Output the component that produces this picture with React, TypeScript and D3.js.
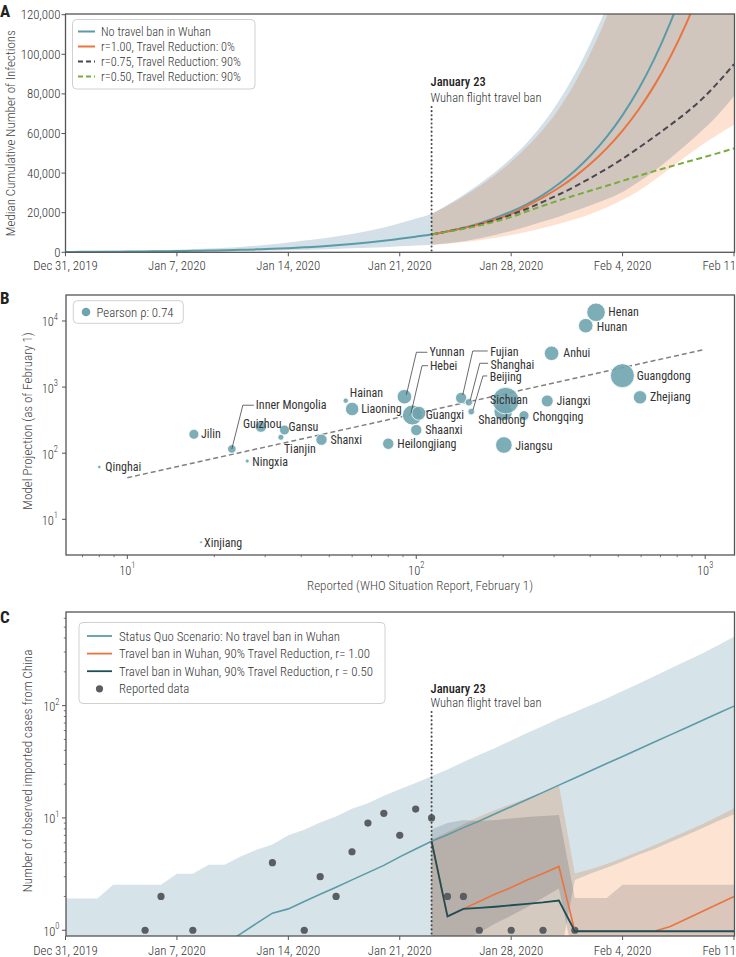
import React from "react";
import * as d3 from "d3";

const FONT = "'Roboto Condensed','Liberation Sans Narrow','Arial Narrow','DejaVu Sans Condensed',sans-serif";

// ---------------- shared time axis ----------------
const DATE_TICK_LABELS = ["Dec 31, 2019", "Jan 7, 2020", "Jan 14, 2020", "Jan 21, 2020", "Jan 28, 2020", "Feb 4, 2020", "Feb 11, 2020"];
const BAN_DATE = "Jan 23, 2020";
const BAN_TITLE = "January 23";
const BAN_TEXT = "Wuhan flight travel ban";

// ---------------- Panel A (thousands of infections) ----------------
const A_Y_TICKS = [0, 20000, 40000, 60000, 80000, 100000, 120000];
const A_LEGEND = ["No travel ban in Wuhan", "r=1.00, Travel Reduction: 0%", "r=0.75, Travel Reduction: 90%", "r=0.50, Travel Reduction: 90%"];
const A_START_NOBAN = 0; // first day index (days after Dec 31)
const A_START_BAN = 23;
const A_NO_BAN = [0.19, 0.22, 0.26, 0.31, 0.37, 0.44, 0.52, 0.62, 0.74, 0.88, 1.05, 1.25, 1.48, 1.76, 2.1, 2.5, 2.95, 3.5, 4.15, 4.9, 5.8, 6.85, 7.9, 9.0, 10.6, 12.4, 14.6, 17.4, 20.5, 24.3, 29.0, 34.6, 41.2, 49.0, 58.3, 69.3, 82.3, 97.8, 116, 137];
const A_R100 = [9.0, 10.5, 12.2, 14.2, 16.6, 19.4, 23.5, 27.8, 32.6, 38.2, 44.8, 52.5, 61.5, 72.0, 84.3, 98.7, 115.5, 135];
const A_R075 = [9.0, 10.5, 12.1, 14.0, 16.3, 19.0, 22.0, 25.5, 29.2, 33.2, 37.6, 42.2, 47.2, 52.7, 58.4, 64.3, 70.5, 77.5, 85.8, 95.0];
const A_R050 = [9.0, 10.4, 11.9, 13.5, 15.5, 17.8, 20.7, 23.5, 26.2, 28.7, 31.2, 33.6, 36.1, 38.6, 41.0, 43.3, 45.6, 47.8, 50.1, 52.5];
const A_NOBAN_HI = [0.5, 0.6, 0.7, 0.8, 0.9, 1.05, 1.2, 1.35, 1.6, 1.9, 2.3, 2.7, 3.3, 4.1, 5.0, 5.9, 6.9, 8.0, 9.3, 10.8, 12.5, 14.7, 17.0, 19.5, 24.0, 29.0, 34.5, 40.5, 47.5, 55.5, 65, 76.5, 90, 106, 124, 145, 168, 195, 225, 260, 300, 345, 395];
const A_NOBAN_LO = [0.05, 0.06, 0.08, 0.1, 0.12, 0.15, 0.2, 0.25, 0.3, 0.38, 0.45, 0.55, 0.7, 0.85, 1.0, 1.2, 1.45, 1.7, 2.0, 2.3, 2.6, 3.0, 3.4, 3.8, 4.6, 5.6, 7.0, 8.8, 10.8, 13.0, 15.5, 18.0, 20.8, 23.8, 26.8, 30.5, 35.5, 41.0, 47.5, 54.3, 61.5, 69.5, 79];
const A_R100_HI = [19.5, 23.5, 28.2, 33.4, 39.2, 45.8, 53.3, 62.0, 72.5, 85.5, 101, 119, 140, 165, 190, 220, 250, 285, 325, 370];
const A_R100_LO = [3.6, 4.3, 5.1, 6.1, 7.3, 8.7, 10.4, 12.3, 14.4, 16.7, 19.4, 22.6, 26.5, 31.0, 36.5, 42.5, 48.5, 54.3, 59.5, 64.4];

// ---------------- Panel B ----------------
const B_PROVINCES = ["Qinghai", "Jilin", "Inner Mongolia", "Guizhou", "Gansu", "Tianjin", "Ningxia", "Shanxi", "Xinjiang", "Hainan", "Liaoning", "Yunnan", "Hebei", "Guangxi", "Shaanxi", "Heilongjiang", "Fujian", "Shanghai", "Beijing", "Shandong", "Sichuan", "Chongqing", "Jiangsu", "Jiangxi", "Anhui", "Hunan", "Henan", "Guangdong", "Zhejiang"];
const B_REPORTED = [8, 17, 23, 29, 35, 34, 26, 47, 18, 57, 60, 91, 97, 102, 100, 80, 143, 152, 155, 200, 204, 236, 201, 284, 294, 386, 419, 517, 595];
const B_PROJECTED = [62, 193, 116, 252, 224, 174, 76, 160, 4.5, 623, 466, 716, 378, 402, 224, 139, 684, 589, 425, 425, 623, 370, 133, 617, 3245, 8490, 13530, 1489, 700];
const B_WEIGHT = [3, 25, 18, 32, 25, 9, 4, 32, 2, 7, 45, 53, 100, 49, 32, 32, 32, 14, 11, 86, 177, 25, 69, 36, 53, 53, 86, 144, 45];
const B_TREND_X = [10, 1000];
const B_TREND_Y = [42.6, 3730];
const B_X_TICKS = [10, 100, 1000];
const B_Y_TICKS = [10, 100, 1000, 10000];
const B_LEGEND = "Pearson \u03c1: 0.74";

// label placement (pixel offsets from bubble centre)
const B_LABELS: Record<string, { dx: number; dy: number; leader?: [number, number][] }> = {
  Qinghai: { dx: 6, dy: 0 },
  Jilin: { dx: 7, dy: 0 },
  "Inner Mongolia": { dx: 24, dy: -43.5, leader: [[0, 0], [11, -43.7], [22, -43.7]] },
  Guizhou: { dx: -18, dy: -3 },
  Gansu: { dx: 4, dy: -3 },
  Tianjin: { dx: 3, dy: 12 },
  Ningxia: { dx: 5, dy: 1 },
  Shanxi: { dx: 9, dy: 0 },
  Xinjiang: { dx: 3, dy: 1 },
  Hainan: { dx: 4, dy: -8 },
  Liaoning: { dx: 9, dy: 0 },
  Yunnan: { dx: 25, dy: -44.2, leader: [[2, -2], [12, -44.4], [23, -44.4]] },
  Hebei: { dx: 17.5, dy: -49, leader: [[-1.5, -1.5], [9.6, -49.3], [15.6, -49.3]] },
  Guangxi: { dx: 7, dy: 2 },
  Shaanxi: { dx: 9, dy: 0 },
  Heilongjiang: { dx: 9, dy: 0.5 },
  Fujian: { dx: 29, dy: -46.3, leader: [[1.6, -3], [11.6, -47], [26.6, -47]] },
  Shanghai: { dx: 21.7, dy: -37.6, leader: [[1.3, -1.6], [11, -39], [19.3, -39]] },
  Beijing: { dx: 18.4, dy: -34.7, leader: [[1.7, -1.7], [11.7, -35.7], [16, -35.7]] },
  Sichuan: { dx: -15.6, dy: -0.7 },
  Shandong: { dx: -25, dy: 8.3 },
  Chongqing: { dx: 8.6, dy: 1 },
  Jiangsu: { dx: 11.4, dy: 0.7 },
  Jiangxi: { dx: 9.3, dy: 0 },
  Anhui: { dx: 11.7, dy: -0.6 },
  Hunan: { dx: 11, dy: 1 },
  Henan: { dx: 12.3, dy: -0.6 },
  Guangdong: { dx: 14.3, dy: 0 },
  Zhejiang: { dx: 10, dy: 0 },
};

// ---------------- Panel C ----------------
const C_LEGEND = ["Status Quo Scenario: No travel ban in Wuhan", "Travel ban in Wuhan, 90% Travel Reduction, r= 1.00", "Travel ban in Wuhan, 90% Travel Reduction, r = 0.50", "Reported data"];
const C_Y_TICKS = [1, 10, 100];
const C_REPORTED_DAYS = [5, 6, 8, 13, 15, 16, 17, 18, 19, 20, 21, 22, 23, 24, 25, 26, 28, 30, 32];
const C_REPORTED = [1, 2, 1, 4, 1, 3, 2, 5, 9, 11, 7, 12, 10, 2, 2, 1, 1, 1, 1];
const C_START_NOBAN_LINE = 10;
const C_NO_BAN = [0.75, 0.93, 1.15, 1.42, 1.55, 1.8, 2.09, 2.42, 2.81, 3.26, 3.78, 4.5, 5.3, 6.2, 7.1, 8.2, 9.4, 10.9, 12.6, 14.6, 16.9, 19.6, 22.7, 26.3, 30.5, 35.3, 40.9, 47.4, 54.9, 63.6, 73.7, 85.4, 99];
const C_START_BAND = 0;
const C_NOBAN_HI = [1.92, 1.92, 1.92, 2.54, 2.54, 2.54, 2.54, 3.19, 3.19, 3.83, 3.83, 4.54, 5.2, 5.8, 7.0, 7.85, 9.1, 10.3, 12.1, 13.5, 15.8, 18.0, 20.5, 23.5, 27, 31.5, 36.5, 42, 49, 57, 66, 77, 88, 101, 116, 135, 157, 183, 214, 250, 292, 345, 410];
const C_NOBAN_LO = [0.5, 0.5, 0.5, 0.5, 0.5, 0.5, 0.5, 0.5, 0.5, 0.5, 0.5, 0.5, 0.5, 0.5, 0.5, 0.5, 0.5, 0.5, 0.5, 0.5, 0.5, 0.5, 0.5, 0.5, 0.5, 0.5, 0.5, 0.5, 0.5, 0.5, 0.5, 0.5, 2.8, 3.2, 3.6, 4.1, 4.7, 5.3, 6.1, 7.0, 8.1, 9.4, 10.8];
const C_START_BAN = 23;
const C_R100 = [6.2, 1.33, 1.55, 1.8, 2.1, 2.4, 2.8, 3.2, 3.7, 0.98, 0.98, 0.98, 0.98, 0.98, 0.98, 1.08, 1.26, 1.47, 1.71, 2.0];
const C_R050 = [6.2, 1.33, 1.55, 1.58, 1.62, 1.67, 1.72, 1.77, 1.84, 0.98, 0.98, 0.98, 0.98, 0.98, 0.98, 0.98, 0.98, 0.98, 0.98, 0.98];
const C_R100_HI = [6.4, 7.5, 8.8, 10.3, 11.8, 13.3, 15.0, 17.0, 19.5, 3.2, 3.5, 3.9, 4.4, 5.0, 5.7, 6.6, 7.6, 8.8, 10.3, 12.2];
const C_R100_LO = [0.5, 0.5, 0.5, 0.5, 0.5, 0.5, 0.5, 0.5, 0.5, 0.5, 0.5, 0.5, 0.5, 0.5, 0.5, 0.5, 0.5, 0.5, 0.5, 0.5];
const C_R050_HI = [7.9, 9.0, 9.6, 9.4, 9.6, 9.9, 10.2, 10.4, 10.6, 1.94, 1.94, 1.94, 2.54, 2.54, 2.54, 2.54, 2.54, 2.54, 2.54, 2.54];
const C_R050_LO = [0.5, 0.6, 0.8, 0.95, 1.15, 1.35, 1.6, 1.95, 2.35, 0.5, 0.5, 0.5, 0.5, 0.5, 0.5, 0.5, 0.5, 0.5, 0.5, 0.5];

// ---------------- styles ----------------
const TEAL = "#5b9ba8";
const ORANGE = "#ea7440";
const DARKGRAY = "#4b4650";
const GREEN = "#79ac3c";
const DARKTEAL = "#1e4f56";
const FRAME = "#555";
const TICKTXT = "#333";

function Sup({ x, y, base, exp, anchor }: { x: number; y: number; base: string; exp: string; anchor: string }) {
  return (
    <text x={x} y={y} textAnchor={anchor} fontSize={12.5} fontWeight={300} fill={TICKTXT} dominantBaseline="central">
      {base}
      <tspan fontSize={8.5} dy={-5}>{exp}</tspan>
    </text>
  );
}

export default function App() {
  const parse = d3.timeParse("%b %d, %Y");
  const tickDates = DATE_TICK_LABELS.map((s) => parse(s) as Date);
  const x = d3.scaleTime().domain([tickDates[0], tickDates[tickDates.length - 1]]).range([65.5, 734]);
  const dayDate = (d: number) => d3.timeDay.offset(tickDates[0], d);
  const banX = x(parse(BAN_DATE) as Date);
  const fmtDate = d3.timeFormat("%b %-d, %Y");
  const fmtShort = d3.timeFormat("%b %-d");

  // ---------- A ----------
  const A = { l: 65.5, r: 734.5, t: 14, b: 252.3 };
  const yA = d3.scaleLinear().domain([0, 120000]).range([252.3, 14.7]);
  const lineA = (start: number) =>
    d3.line<number>().x((_, i) => x(dayDate(start + i))).y((v) => yA(v * 1000)).curve(d3.curveMonotoneX);
  const areaA = (start: number, lo: number[]) =>
    d3.area<number>().x((_, i) => x(dayDate(start + i))).y0((_, i) => yA(lo[i] * 1000)).y1((v) => yA(v * 1000)).curve(d3.curveMonotoneX);
  const fmtNum = d3.format(",");

  // ---------- B ----------
  const B = { l: 66, r: 734.5, t: 295, b: 555 };
  const xB = d3.scaleLog().domain([6.135, 1258]).range([66, 734]);
  const yB = d3.scaleLog().domain([Math.pow(10, 0.46), Math.pow(10, 4.393)]).range([555, 295]);
  const rB = d3.scaleSqrt().domain([0, d3.max(B_WEIGHT) as number]).range([0, 13.3]);
  const bMinor: number[] = [];
  [1, 10, 100, 1000].forEach((dec) => {
    for (let m = 2; m <= 9; m++) {
      const v = m * dec;
      if (v > 6.135 && v < 1258) bMinor.push(v);
    }
  });

  // ---------- C ----------
  const C = { l: 66, r: 734.5, t: 612, b: 936 };
  const yC = d3.scaleLog().domain([0.889, 682]).range([936, 612]);
  const lineC = (start: number) => d3.line<number>().x((_, i) => x(dayDate(start + i))).y((v) => yC(v));
  const areaC = (start: number, lo: number[]) =>
    d3.area<number>().x((_, i) => x(dayDate(start + i))).y0((_, i) => yC(lo[i])).y1((v) => yC(v));
  const cMinor: number[] = [];
  [1, 10, 100].forEach((dec) => {
    for (let m = 2; m <= 9; m++) {
      const v = m * dec;
      if (v < 682) cMinor.push(v);
    }
  });

  const dateAxis = (bottom: number, labelY: number, key: string) =>
    tickDates.map((d, i) => {
      const last = i === tickDates.length - 1;
      return (
        <g key={key + i}>
          <line x1={x(d)} x2={x(d)} y1={bottom} y2={bottom + 4} stroke={FRAME} strokeWidth={1} />
          <text x={last ? 736 : x(d)} y={labelY} textAnchor={last ? "end" : "middle"} dominantBaseline="central" fontSize={12.8} fontWeight={300} fill={TICKTXT}>
            {last ? fmtShort(d) : fmtDate(d)}
          </text>
        </g>
      );
    });

  const aLegendStyles = [
    { c: TEAL, dash: false },
    { c: ORANGE, dash: false },
    { c: DARKGRAY, dash: true },
    { c: GREEN, dash: true },
  ];
  const cLegendColors = [TEAL, ORANGE, DARKTEAL];

  return (
    <svg width={736} height={957} style={{ position: "absolute", left: 0, top: 0, background: "#fff" }} fontFamily={FONT}>
      <defs>
        <clipPath id="clipA"><rect x={A.l} y={A.t} width={A.r - A.l} height={A.b - A.t} /></clipPath>
        <clipPath id="clipB"><rect x={B.l} y={B.t} width={B.r - B.l} height={B.b - B.t} /></clipPath>
        <clipPath id="clipC"><rect x={C.l} y={C.t} width={C.r - C.l} height={C.b - C.t} /></clipPath>
      </defs>
      <rect x={0} y={0} width={736} height={957} fill="#fff" />

      {/* ================= Panel A ================= */}
      <g clipPath="url(#clipA)">
        <path d={areaA(A_START_NOBAN, A_NOBAN_LO)(A_NOBAN_HI) || ""} fill="#d3e0e8" />
        <path d={areaA(A_START_BAN, A_R100_LO)(A_R100_HI) || ""} fill="#fde2d1" style={{ mixBlendMode: "multiply" }} />
        <path d={lineA(A_START_NOBAN)(A_NO_BAN) || ""} fill="none" stroke={TEAL} strokeWidth={2} />
        <path d={lineA(A_START_BAN)(A_R100) || ""} fill="none" stroke={ORANGE} strokeWidth={2} />
        <path d={lineA(A_START_BAN)(A_R075) || ""} fill="none" stroke={DARKGRAY} strokeWidth={2} strokeDasharray="6 3.5" />
        <path d={lineA(A_START_BAN)(A_R050) || ""} fill="none" stroke={GREEN} strokeWidth={2} strokeDasharray="6 3.5" />
      </g>
      <line x1={banX} x2={banX} y1={107} y2={A.b} stroke="#444" strokeWidth={2} strokeDasharray="0.1 4" strokeLinecap="round" />
      <text x={banX - 1} y={86} fontSize={12.5} fontWeight={500} fill="#222">{BAN_TITLE}</text>
      <text x={banX - 1} y={101.5} fontSize={12.5} fontWeight={300} fill="#333">{BAN_TEXT}</text>
      <rect x={A.l} y={A.t} width={A.r - A.l} height={A.b - A.t} fill="none" stroke={FRAME} strokeWidth={1.3} />
      {A_Y_TICKS.map((v) => (
        <g key={"ay" + v}>
          <line x1={A.l - 4} x2={A.l} y1={yA(v)} y2={yA(v)} stroke={FRAME} />
          <text x={A.l - 5} y={yA(v)} textAnchor="end" dominantBaseline="central" fontSize={12.8} fontWeight={300} fill={TICKTXT}>
            {fmtNum(v)}
          </text>
        </g>
      ))}
      {dateAxis(A.b, 265.5, "ax")}
      <text transform={`translate(10,${(A.t + A.b) / 2}) rotate(-90)`} textAnchor="middle" dominantBaseline="central" fontSize={13} fontWeight={300} fill="#444">
        Median Cumulative Number of Infections
      </text>
      <g>
        <rect x={72.5} y={19.5} width={182.5} height={69.5} rx={4} fill="#fff" fillOpacity={0.85} stroke="#d0d0d0" />
        {A_LEGEND.map((t, i) => (
          <g key={"al" + i}>
            <line x1={78} x2={95} y1={31.5 + i * 15} y2={31.5 + i * 15} stroke={aLegendStyles[i].c} strokeWidth={2} strokeDasharray={aLegendStyles[i].dash ? "5 3" : undefined} />
            <text x={101} y={31.5 + i * 15} dominantBaseline="central" fontSize={12.3} fontWeight={300} fill="#333">{t}</text>
          </g>
        ))}
      </g>
      <text x={0} y={17} fontSize={17} fontWeight={700} fill="#222">A</text>

      {/* ================= Panel B ================= */}
      <g clipPath="url(#clipB)">
        <path
          d={d3.line<number>().x((v) => xB(v)).y((_, i) => yB(B_TREND_Y[i]))(B_TREND_X) || ""}
          fill="none" stroke="#808080" strokeWidth={1.5} strokeDasharray="5 3"
        />
        {B_PROVINCES.map((p, i) => (
          <circle key={"bc" + p} cx={xB(B_REPORTED[i])} cy={yB(B_PROJECTED[i])} r={rB(B_WEIGHT[i])} fill="#6fa4af" fillOpacity={0.9} stroke="#fff" strokeWidth={0.8} />
        ))}
        {B_PROVINCES.map((p, i) => {
          const cx = xB(B_REPORTED[i]);
          const cy = yB(B_PROJECTED[i]);
          const L = B_LABELS[p];
          return (
            <g key={"bl" + p}>
              {L.leader && (
                <polyline points={L.leader.map(([dx, dy]) => `${cx + dx},${cy + dy}`).join(" ")} fill="none" stroke="#444" strokeWidth={0.8} />
              )}
              <text x={cx + L.dx} y={cy + L.dy} dominantBaseline="central" fontSize={12} fill="#333">{p}</text>
            </g>
          );
        })}
      </g>
      <rect x={B.l} y={B.t} width={B.r - B.l} height={B.b - B.t} fill="none" stroke={FRAME} strokeWidth={1.3} />
      {B_X_TICKS.map((v) => (
        <g key={"bx" + v}>
          <line x1={xB(v)} x2={xB(v)} y1={B.b} y2={B.b + 4} stroke={FRAME} />
          <Sup x={xB(v)} y={570} base="10" exp={String(Math.round(Math.log10(v)))} anchor="middle" />
        </g>
      ))}
      {bMinor.map((v) => (
        <line key={"bm" + v} x1={xB(v)} x2={xB(v)} y1={B.b} y2={B.b + 2.2} stroke={FRAME} strokeWidth={0.8} />
      ))}
      {B_Y_TICKS.map((v) => (
        <g key={"by" + v}>
          <line x1={B.l - 4} x2={B.l} y1={yB(v)} y2={yB(v)} stroke={FRAME} />
          <Sup x={58} y={yB(v) + 1} base="10" exp={String(Math.round(Math.log10(v)))} anchor="end" />
        </g>
      ))}
      <text x={420} y={585.5} textAnchor="middle" dominantBaseline="central" fontSize={13} fontWeight={300} fill="#444">
        Reported (WHO Situation Report, February 1)
      </text>
      <text transform={`translate(27,421) rotate(-90)`} textAnchor="middle" dominantBaseline="central" fontSize={13} fontWeight={300} fill="#444">
        Model Projection (as of February 1)
      </text>
      <rect x={73.3} y={300.7} width={110} height={22.6} rx={4} fill="#fff" fillOpacity={0.85} stroke="#d0d0d0" />
      <circle cx={86} cy={312} r={4.3} fill="#6fa4af" />
      <text x={96.5} y={312} dominantBaseline="central" fontSize={12.8} fontWeight={300} fill="#333">{B_LEGEND}</text>
      <text x={0} y={304} fontSize={17} fontWeight={700} fill="#222">B</text>

      {/* ================= Panel C ================= */}
      <g clipPath="url(#clipC)">
        <path d={areaC(C_START_BAND, C_NOBAN_LO)(C_NOBAN_HI) || ""} fill="#d6e3e8" />
        <path d={areaC(C_START_BAN, C_R100_LO)(C_R100_HI) || ""} fill="#fde3d2" style={{ mixBlendMode: "multiply" }} />
        <path d={areaC(C_START_BAN, C_R050_LO)(C_R050_HI) || ""} fill="#dcdfe3" style={{ mixBlendMode: "multiply" }} />
        {C_REPORTED.map((v, i) => (
          <circle key={"cd" + i} cx={x(dayDate(C_REPORTED_DAYS[i]))} cy={yC(v)} r={3.6} fill="#5a5e62" />
        ))}
        <path d={lineC(C_START_NOBAN_LINE)(C_NO_BAN) || ""} fill="none" stroke={TEAL} strokeWidth={1.6} />
        <path d={lineC(C_START_BAN)(C_R100) || ""} fill="none" stroke={ORANGE} strokeWidth={1.6} />
        <path d={lineC(C_START_BAN)(C_R050) || ""} fill="none" stroke={DARKTEAL} strokeWidth={1.8} />
      </g>
      <line x1={banX} x2={banX} y1={712} y2={C.b} stroke="#444" strokeWidth={2} strokeDasharray="0.1 4" strokeLinecap="round" />
      <text x={banX - 1} y={692.5} fontSize={12.5} fontWeight={500} fill="#222">{BAN_TITLE}</text>
      <text x={banX - 1} y={706.5} fontSize={12.5} fontWeight={300} fill="#333">{BAN_TEXT}</text>
      <rect x={C.l} y={C.t} width={C.r - C.l} height={C.b - C.t} fill="none" stroke={FRAME} strokeWidth={1.3} />
      {C_Y_TICKS.map((v) => (
        <g key={"cy" + v}>
          <line x1={C.l - 4} x2={C.l} y1={yC(v)} y2={yC(v)} stroke={FRAME} />
          <Sup x={59.5} y={yC(v) + 1} base="10" exp={String(Math.round(Math.log10(v)))} anchor="end" />
        </g>
      ))}
      {cMinor.map((v) => (
        <line key={"cm" + v} x1={C.l - 2.2} x2={C.l} y1={yC(v)} y2={yC(v)} stroke={FRAME} strokeWidth={0.8} />
      ))}
      {dateAxis(C.b, 950.5, "cx")}
      <text transform={`translate(27,771) rotate(-90)`} textAnchor="middle" dominantBaseline="central" fontSize={13} fontWeight={300} fill="#444">
        Number of observed imported cases from China
      </text>
      <rect x={79} y={622.5} width={306} height={81} rx={4} fill="#fff" fillOpacity={0.85} stroke="#d0d0d0" />
      {C_LEGEND.map((t, i) => {
        const yy = 636 + i * 17.6;
        return (
          <g key={"cl" + i}>
            {i < 3 ? (
              <line x1={87} x2={112} y1={yy} y2={yy} stroke={cLegendColors[i]} strokeWidth={1.8} />
            ) : (
              <circle cx={99.5} cy={yy} r={3.6} fill="#5a5e62" />
            )}
            <text x={119} y={yy} dominantBaseline="central" fontSize={12.8} fontWeight={300} fill="#333">{t}</text>
          </g>
        );
      })}
      <text x={0} y={623} fontSize={17} fontWeight={700} fill="#222">C</text>
    </svg>
  );
}
